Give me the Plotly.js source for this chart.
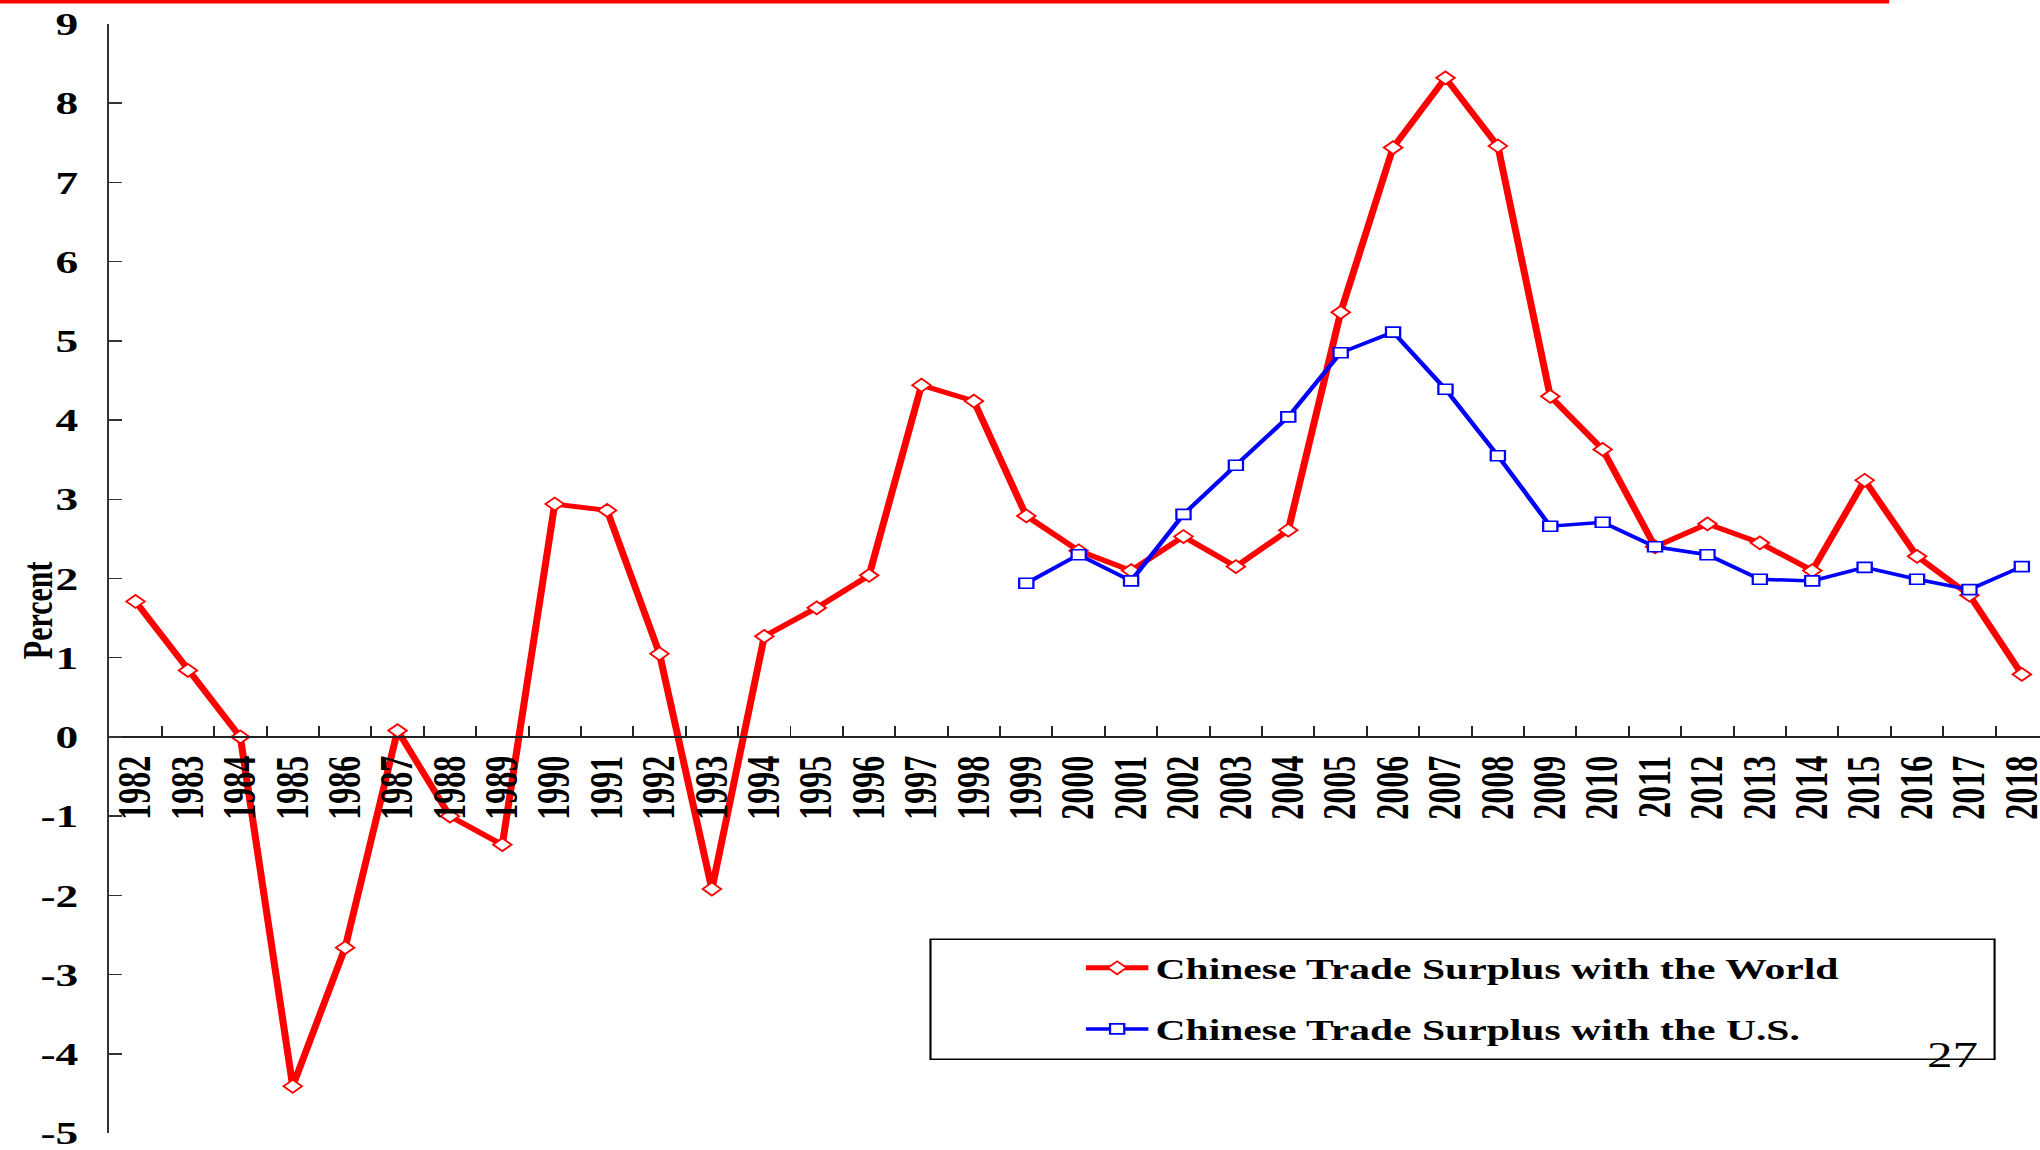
<!DOCTYPE html>
<html>
<head>
<meta charset="utf-8">
<script src="https://cdn.plot.ly/plotly-3.0.1.min.js"></script>
<style>
  html, body { margin: 0; padding: 0; background: #ffffff; overflow: hidden; }
  #wrap { width: 1437px; height: 1150px; transform-origin: 0 0; }
</style>
</head>
<body>
<div id="wrap"><div id="chart"></div></div>
<script>
// Years on the category axis
const years = ['1982','1983','1984','1985','1986','1987','1988','1989','1990','1991',
               '1992','1993','1994','1995','1996','1997','1998','1999','2000','2001',
               '2002','2003','2004','2005','2006','2007','2008','2009','2010','2011',
               '2012','2013','2014','2015','2016','2017','2018'];

// Trade surplus with the world, percent of GDP
const worldSurplus = [1.71, 0.84, 0.00, -4.41, -2.66, 0.08, -1.00, -1.36, 2.94, 2.86,
                      1.05, -1.92, 1.27, 1.63, 2.04, 4.44, 4.24, 2.79, 2.35, 2.10,
                      2.53, 2.15, 2.61, 5.36, 7.44, 8.32, 7.46, 4.30, 3.63, 2.40,
                      2.69, 2.45, 2.10, 3.24, 2.28, 1.79, 0.79];

// Trade surplus with the U.S., percent of GDP
const usYears = ['1999','2000','2001','2002','2003','2004','2005','2006','2007','2008',
                 '2009','2010','2011','2012','2013','2014','2015','2016','2017','2018'];
const usSurplus = [1.94, 2.30, 1.97, 2.81, 3.43, 4.04, 4.85, 5.11, 4.39, 3.55,
                   2.66, 2.71, 2.40, 2.30, 1.99, 1.97, 2.14, 1.99, 1.86, 2.15];

const yTickVals = [-5, -4, -3, -2, -1, 0, 1, 2, 3, 4, 5, 6, 7, 8, 9];
const yTickText = ['-5', '-4', '-3', '-2', '-1', '0', '1', '2', '3', '4', '5', '6', '7', '8', '9'];

const seriesNames = ['Chinese Trade Surplus with the World', 'Chinese Trade Surplus with the U.S.'];

const SERIF = 'Liberation Serif, Times New Roman, serif';
const boldFont = (size) => ({ family: SERIF, size: size, color: '#000000', weight: 'bold' });

const traces = [
  {
    type: 'scatter', mode: 'lines+markers',
    name: seriesNames[0], legendgroup: 'world',
    x: years, y: worldSurplus,
    line: { color: '#ff0000', width: 5 },
    marker: { symbol: 'diamond', size: 10, color: '#ffffff', line: { color: '#ff0000', width: 1.6 } },
    cliponaxis: false
  },
  {
    type: 'scatter', mode: 'lines+markers',
    name: seriesNames[1], legendgroup: 'us',
    x: usYears, y: usSurplus,
    line: { color: '#0000ff', width: 3.5 },
    marker: { symbol: 'square', size: 10, color: '#ffffff', line: { color: '#0000ff', width: 1.6 } },
    cliponaxis: false
  }
];

const layout = {
  width: 1437, height: 1150,
  margin: { l: 77, r: 0, t: 24, b: 17 },
  paper_bgcolor: '#ffffff', plot_bgcolor: '#ffffff',
  showlegend: true,
  xaxis: {
    type: 'category', categoryorder: 'array', categoryarray: years,
    range: [-0.5, 36.357],
    tickmode: 'linear', tick0: 0, dtick: 1,
    anchor: 'free', position: 5 / 14,
    showline: true, linecolor: '#222222', linewidth: 2,
    ticks: 'inside', ticklen: 10, tickwidth: 1.4, tickcolor: '#222222',
    tickson: 'boundaries',
    tickangle: -90,
    tickfont: boldFont(32),
    ticklabelstandoff: 5,
    ticklabeloverflow: 'allow',
    showgrid: false, zeroline: false, fixedrange: true
  },
  yaxis: {
    range: [-5, 9],
    domain: [0, 1],
    tickmode: 'array', tickvals: yTickVals, ticktext: yTickText,
    showline: true, linecolor: '#333333', linewidth: 1.5,
    ticks: 'inside', ticklen: 9, tickwidth: 1.5, tickcolor: '#333333',
    tickfont: boldFont(32),
    ticklabelstandoff: 14,
    ticklabeloverflow: 'allow',
    showgrid: false, zeroline: false, fixedrange: true
  },
  legend: {
    x: 0.502, y: 0.172, xanchor: 'left', yanchor: 'top',
    font: boldFont(29.3),
    bgcolor: 'rgba(0,0,0,0)', borderwidth: 0,
    itemwidth: 44,
    traceorder: 'grouped', tracegroupgap: 20
  },
  shapes: [
    // red rule along the top of the page
    { type: 'line', xref: 'paper', yref: 'paper', x0: -0.0568, x1: 0.9216, y0: 1.0202, y1: 1.0202,
      line: { color: '#ff0000', width: 3.8 } },
    // frame around the legend
    { type: 'rect', xref: 'paper', yref: 'paper', x0: 0.4252, x1: 0.9762, y0: 0.0665, y1: 0.1747,
      line: { color: '#000000', width: 1.5 }, fillcolor: 'rgba(0,0,0,0)' }
  ],
  annotations: [
    { text: 'Percent', xref: 'paper', yref: 'y', x: -0.0375, y: 1.6,
      xanchor: 'center', yanchor: 'middle', textangle: -90, showarrow: false,
      font: boldFont(30) },
    { text: '27', xref: 'paper', yref: 'y', x: 0.9541, y: -4.02,
      xanchor: 'center', yanchor: 'middle', showarrow: false,
      font: { family: SERIF, size: 36, color: '#000000' } }
  ]
};

Plotly.newPlot('chart', traces, layout, { displayModeBar: false, staticPlot: true }).then(function () {
  // widen the finished drawing to the full page width
  document.getElementById('wrap').style.transform = 'scaleX(1.42)';
});
</script>
</body>
</html>
